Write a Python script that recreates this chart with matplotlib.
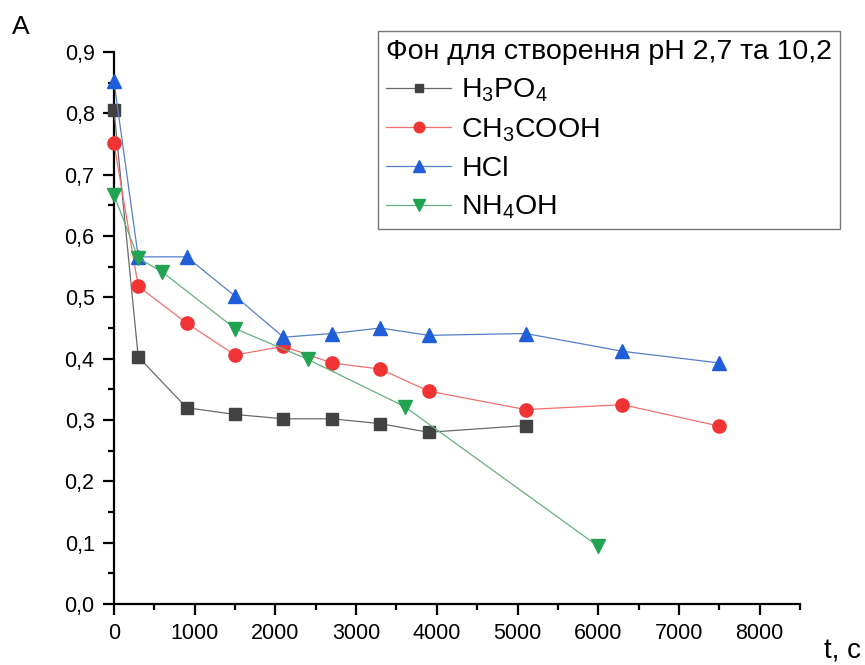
import matplotlib
matplotlib.use("Agg")
import matplotlib.pyplot as plt
from matplotlib.ticker import MultipleLocator, FuncFormatter

plt.rcParams['font.family'] = ['Liberation Sans', 'DejaVu Sans']
plt.rcParams['mathtext.fontset'] = 'custom'
plt.rcParams['mathtext.rm'] = 'Liberation Sans'
plt.rcParams['mathtext.it'] = 'Liberation Sans'
plt.rcParams['mathtext.default'] = 'regular'

# Data
t_h3po4 = [0, 300, 900, 1500, 2100, 2700, 3300, 3900, 5100]
a_h3po4 = [0.805, 0.403, 0.320, 0.309, 0.302, 0.302, 0.294, 0.280, 0.291]

t_ch3cooh = [0, 300, 900, 1500, 2100, 2700, 3300, 3900, 5100, 6300, 7500]
a_ch3cooh = [0.751, 0.518, 0.458, 0.406, 0.420, 0.393, 0.383, 0.347, 0.317, 0.325, 0.290]

t_hcl = [0, 300, 900, 1500, 2100, 2700, 3300, 3900, 5100, 6300, 7500]
a_hcl = [0.852, 0.566, 0.566, 0.502, 0.435, 0.441, 0.450, 0.438, 0.441, 0.412, 0.393]

t_nh4oh = [0, 300, 600, 1500, 2400, 3600, 6000]
a_nh4oh = [0.667, 0.564, 0.541, 0.449, 0.399, 0.322, 0.094]

labels = [r'$H_3PO_4$', r'$CH_3COOH$', 'HCl', r'$NH_4OH$']
legend_title = 'Фон для створення pH 2,7 та 10,2'

fig = plt.figure(figsize=(8.65, 6.65), dpi=100)
ax = fig.add_axes([114/865, 1 - 604/665, (800-114)/865, (604-52)/665])

series = [
    (t_h3po4, a_h3po4, 's', '#424242', '#6a6a6a', 8),
    (t_ch3cooh, a_ch3cooh, 'o', '#f03434', '#f07070', 9.5),
    (t_hcl, a_hcl, '^', '#1f5ed8', '#5580c8', 10),
    (t_nh4oh, a_nh4oh, 'v', '#22a352', '#66b080', 10),
]
for (x, y, m, mc, lc, ms), lab in zip(series, labels):
    ax.plot(x, y, color=lc, lw=0.9, marker=m, markersize=ms,
            markerfacecolor=mc, markeredgecolor=mc, label=lab, clip_on=False, zorder=3)

ax.set_xlim(0, 8500)
ax.set_ylim(0, 0.9)
ax.xaxis.set_major_locator(MultipleLocator(1000))
ax.xaxis.set_minor_locator(MultipleLocator(500))
ax.yaxis.set_major_locator(MultipleLocator(0.1))
ax.yaxis.set_minor_locator(MultipleLocator(0.05))
ax.yaxis.set_major_formatter(FuncFormatter(lambda v, p: f'{v:.1f}'.replace('.', ',')))

for s in ['top', 'right']:
    ax.spines[s].set_visible(False)
for s in ['left', 'bottom']:
    ax.spines[s].set_linewidth(1.6)
ax.tick_params(which='major', direction='out', length=8, width=1.6, labelsize=15.5, pad=6)
ax.tick_params(which='minor', direction='out', length=4.5, width=1.6)

leg = ax.legend(title=legend_title, loc='upper left', bbox_to_anchor=(378/865, 1 - 31/665),
                bbox_transform=fig.transFigure, fontsize=20.5, title_fontsize=20.5,
                frameon=True, fancybox=False, edgecolor='#555555', borderpad=0.28,
                labelspacing=0.42, handlelength=2.3, handletextpad=0.35, borderaxespad=0,
                markerscale=0.8)
leg._legend_box.align = 'left'
leg.get_frame().set_linewidth(1.0)

fig.text(21/865, 1 - 27/665, 'A', fontsize=19, ha='center', va='center')
fig.text(842/865, 1 - 652/665, 't, c', fontsize=20, ha='center', va='center')

fig.savefig('out.png', dpi=100)
